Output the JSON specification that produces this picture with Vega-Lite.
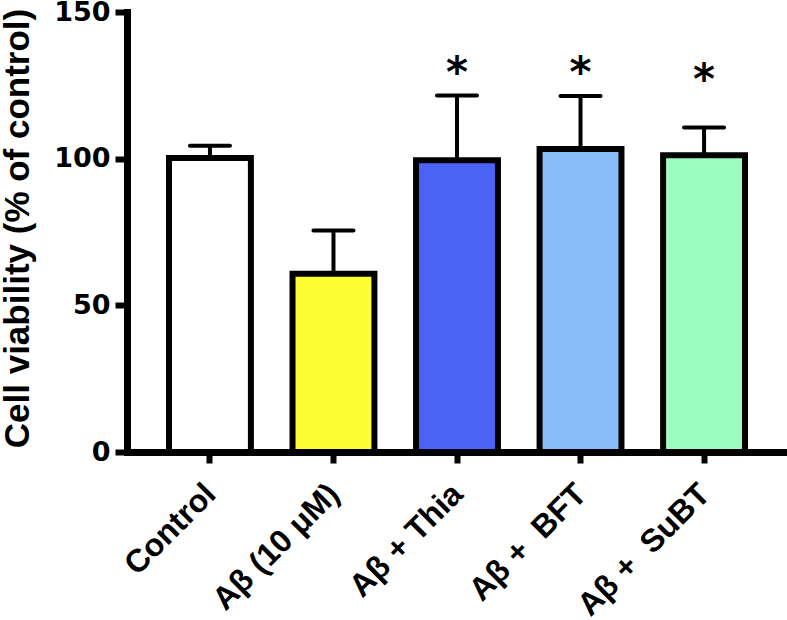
{
  "$schema": "https://vega.github.io/schema/vega-lite/v6.json",
  "width": 660,
  "height": 440,
  "autosize": "none",
  "padding": {"left": 127, "top": 12, "right": 0, "bottom": 168},
  "background": "white",
  "config": {
    "view": {"stroke": null},
    "axis": {"domainColor": "black", "tickColor": "black", "labelColor": "black", "titleColor": "black", "grid": false}
  },
  "data": {
    "values": [
      {"group": "Control", "mean": 100.2, "upper": 104.4, "star": null},
      {"group": "Aβ (10 μM)", "mean": 60.8, "upper": 75.5, "star": null},
      {"group": "Aβ + Thia", "mean": 99.5, "upper": 121.5, "star": 124.5},
      {"group": "Aβ +\u00a0 BFT", "mean": 103.3, "upper": 121.4, "star": 124.5},
      {"group": "Aβ +\u00a0 SuBT", "mean": 101.2, "upper": 110.6, "star": 122}
    ]
  },
  "encoding": {
    "x": {
      "field": "group",
      "type": "nominal",
      "sort": null,
      "scale": {"paddingInner": 0.337, "paddingOuter": 0.34},
      "axis": {
        "title": null,
        "labelAngle": -45,
        "labelFont": "Liberation Sans",
        "labelFontWeight": "bold",
        "labelFontSize": 32,
        "labelPadding": 15,
        "labelOffset": -10,
        "tickSize": 11,
        "tickWidth": 6,
        "domainWidth": 7,
        "labelLimit": 400
      }
    }
  },
  "layer": [
    {
      "mark": {"type": "bar", "stroke": "black", "strokeWidth": 6},
      "encoding": {
        "y": {
          "field": "mean",
          "type": "quantitative",
          "scale": {"domain": [0, 150], "nice": false},
          "axis": {
            "title": "Cell viability (% of control)",
            "values": [0, 50, 100, 150],
            "labelFont": "DejaVu Sans",
            "labelFontWeight": "bold",
            "labelFontSize": 27,
            "labelPadding": 5,
            "tickSize": 12,
            "tickWidth": 6,
            "domainWidth": 7,
            "domainCap": "square",
            "titleFont": "Liberation Sans",
            "titleFontWeight": "bold",
            "titleFontSize": 35,
            "titleX": -99,
            "titleY": 216,
            "titleAngle": -90,
            "titleAlign": "center",
            "titleBaseline": "alphabetic"
          }
        },
        "fill": {
          "field": "group",
          "type": "nominal",
          "scale": {
            "domain": ["Control", "Aβ (10 μM)", "Aβ + Thia", "Aβ +\u00a0 BFT", "Aβ +\u00a0 SuBT"],
            "range": ["#ffffff", "#fdfd33", "#4a63f5", "#88bdf8", "#9dfdc0"]
          },
          "legend": null
        }
      }
    },
    {
      "mark": {"type": "rule", "color": "black", "strokeWidth": 4},
      "encoding": {
        "y": {"field": "mean", "type": "quantitative"},
        "y2": {"field": "upper"}
      }
    },
    {
      "mark": {"type": "tick", "color": "black", "size": 44, "thickness": 4, "cornerRadius": 2, "opacity": 1},
      "encoding": {
        "y": {"field": "upper", "type": "quantitative"}
      }
    },
    {
      "transform": [{"filter": "datum.star != null"}],
      "mark": {"type": "text", "text": "*", "font": "DejaVu Sans", "fontWeight": "bold", "fontSize": 42, "baseline": "alphabetic", "align": "center", "color": "black"},
      "encoding": {
        "y": {"field": "star", "type": "quantitative"}
      }
    }
  ]
}
